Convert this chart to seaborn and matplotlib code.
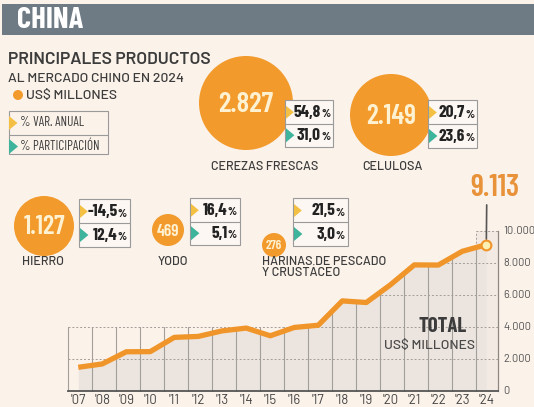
import numpy as np
import pandas as pd
import matplotlib
matplotlib.use("Agg")
import matplotlib.pyplot as plt
from matplotlib import font_manager
from matplotlib.patches import Circle, Rectangle, Polygon
import seaborn as sns

# total exports to China, US$ millions
years = ["'07", "'08", "'09", "'10", "'11", "'12", "'13", "'14", "'15",
         "'16", "'17", "'18", "'19", "'20", "'21", "'22", "'23", "'24"]
totals = [1450, 1660, 2420, 2430, 3320, 3380, 3730, 3900, 3420,
          3940, 4080, 5600, 5500, 6600, 7850, 7840, 8700, 9113]

# main products 2024
products = ["CEREZAS FRESCAS", "CELULOSA", "HIERRO", "YODO",
            "HARINAS DE PESCADO\nY CRUSTÁCEO"]
product_values = [2827, 2149, 1127, 469, 276]
var_anual = [54.8, 20.7, -14.5, 16.4, 21.5]
participacion = [31.0, 23.6, 12.4, 5.1, 3.0]

W, H = 534, 407
BG = "#FBF2EA"
ORANGE = "#F29A2C"
DARK = "#3C3C3C"
YELLOW = "#F4C043"
TEAL = "#3DB49B"

sns.set_theme(style="white")

names = {f.name for f in font_manager.fontManager.ttflist}


def pick(cands):
    for c in cands:
        if c in names:
            return c
    return "DejaVu Sans"


COND = pick(["Barlow Condensed", "Roboto Condensed", "DejaVu Sans"])
SANS = pick(["Barlow", "Barlow Semi Condensed", "Roboto", "DejaVu Sans"])
plt.rcParams["font.family"] = [SANS, "DejaVu Sans"]


def fmt_int(v):
    return f"{v:,}".replace(",", ".")


def fmt_pct(v):
    return f"{v:.1f}".replace(".", ",")


fig = plt.figure(figsize=(W / 100, H / 100), dpi=100, facecolor=BG)

# overlay in pixel coordinates for the infographic part
bg = fig.add_axes([0, 0, 1, 1], zorder=0)
bg.set_xlim(0, W)
bg.set_ylim(H, 0)
bg.axis("off")

bg.add_patch(Rectangle((2, 3.5), W, 31.5, color="#6F7B84", lw=0))
bg.text(17, 21, "CHINA", color="white", fontsize=22, fontweight="bold",
        family=COND, va="center", ha="left")

bg.text(7.5, 59, "PRINCIPALES PRODUCTOS", color=DARK, fontsize=12.5,
        fontweight="semibold", va="center", ha="left", family=SANS)
bg.text(8, 78.5, "AL MERCADO CHINO EN 2024", color=DARK, fontsize=10,
        fontweight="medium", va="center", ha="left", family=SANS)
bg.add_patch(Circle((18, 95), 5, color=ORANGE, lw=0))
bg.text(26, 95.5, "US$ MILLONES", color=DARK, fontsize=10,
        fontweight="medium", va="center", ha="left", family=SANS)


def tri(x, y, h, color):
    bg.add_patch(Polygon([(x, y - h / 2), (x, y + h / 2), (x + h * 0.6, y)],
                         closed=True, color=color, lw=0, zorder=3))


# legend box
bg.add_patch(Rectangle((8.5, 111), 99.5, 42.5, fill=False, ec="#9A9A9A", lw=0.8))
bg.plot([8.5, 108], [135, 135], color="#9A9A9A", lw=0.8)
tri(9, 123, 14, YELLOW)
tri(9, 146.5, 15, TEAL)
bg.text(20, 123, "% VAR. ANUAL", color=DARK, fontsize=9.5, va="center", family=COND)
bg.text(20, 146.5, "% PARTICIPACIÓN", color=DARK, fontsize=9.5, va="center", family=COND)

# layout of the product bubbles: circle centre, radius, font size, box, label pos
layout = [
    dict(c=(246, 103), r=47, fs=21, box=(285, 100, 48, 47), lab=(265, 167, "center")),
    dict(c=(391, 115), r=41, fs=20, box=(428, 100, 49, 48), lab=(392, 167, "center")),
    dict(c=(44, 226), r=30, fs=19, box=(79, 199, 51, 48), lab=(43, 262, "center")),
    dict(c=(168, 230), r=16, fs=12.5, box=(190, 198, 50, 47), lab=(173, 262, "center")),
    dict(c=(274, 245), r=12, fs=9.5, box=(293, 198, 55, 48), lab=(262, 267.5, "left")),
]

for name, val, va_, pa, lay in zip(products, product_values, var_anual, participacion, layout):
    cx, cy = lay["c"]
    bg.add_patch(Circle((cx, cy), lay["r"], color=ORANGE, lw=0, zorder=2))
    bg.text(cx, cy + 1, fmt_int(val), color="#FFF2D2", fontsize=lay["fs"],
            fontweight="semibold", family=COND, ha="center", va="center", zorder=4)
    bx, by, bw, bh = lay["box"]
    bg.add_patch(Rectangle((bx, by), bw, bh, facecolor="#FCF7F2", ec="#9A9A9A",
                           lw=0.8, zorder=3))
    bg.plot([bx, bx + bw], [by + bh / 2, by + bh / 2], color="#9A9A9A", lw=0.8, zorder=3)
    tri(bx + 1, by + bh * 0.26, 13, YELLOW)
    tri(bx + 1, by + bh * 0.75, 14, TEAL)
    for j, v in enumerate([va_, pa]):
        ty = by + bh * (0.26 if j == 0 else 0.75)
        bg.text(bx + bw - 12.5, ty + 0.5, fmt_pct(v), color="#222222", fontsize=12.5,
                fontweight="bold", family=COND, ha="right", va="center", zorder=4)
        bg.text(bx + bw - 12, ty + 2.2, "%", color="#222222", fontsize=8.5,
                fontweight="bold", family=COND, ha="left", va="center", zorder=4)
    lx, ly, lha = lay["lab"]
    bg.text(lx, ly, name, color=DARK, fontsize=9, fontweight="medium", family=SANS,
            ha=lha, va="center", linespacing=0.8)

# ---- total line chart ----
df = pd.DataFrame({"pos": np.arange(len(years)), "year": years, "total": totals})

ax = fig.add_axes([68.2 / W, 1 - 390.5 / H, 430.1 / W, 160 / H], zorder=1)
ax.patch.set_alpha(0)
left, right = -0.42, 17.5
ax.set_xlim(left, right)
ax.set_ylim(0, 10000)

x = df["pos"].to_numpy()
y = df["total"].to_numpy()
last = x[-1]

ax.fill_between(x, y, color="#ECE5DF", lw=0, zorder=1)
ax.fill_between([last - 0.42, right], 0, 10000, color="#ECE5DF", alpha=0.6, lw=0, zorder=0.9)

# column separators
grid_c = "#A39E99"
for e in np.arange(len(years)) + left:
    top = max(4000, np.interp(e, x, y))
    ax.plot([e, e], [0, top], color=grid_c, lw=0.8, zorder=1.5, clip_on=False)
ax.plot([last + left, last + left], [np.interp(last + left, x, y), 10000],
        color=grid_c, lw=0.7, ls=(0, (2, 2)), zorder=1.5)
ax.plot([last + left, right], [10000, 10000], color=grid_c, lw=0.7, ls=(0, (2, 2)), zorder=1.5)

# dotted gridlines, visible only inside the shaded area
for lev in [2000, 4000, 6000, 8000]:
    if lev <= 4000:
        xs = left
    else:
        k = int(np.argmax(y >= lev))
        xs = x[k - 1] + (lev - y[k - 1]) / (y[k] - y[k - 1])
    ax.plot([xs, right], [lev, lev], color=grid_c, lw=0.7, ls=(0, (2, 2)), zorder=1.5)

sns.lineplot(data=df, x="pos", y="total", ax=ax, color="#F0952A", lw=3.8,
             zorder=3, solid_capstyle="butt")
ax.plot([last], [y[-1]], "o", ms=7, mfc="#FDF0B5", mec="#F0952A", mew=1.5, zorder=4)
ax.annotate(fmt_int(totals[-1]), xy=(last, y[-1]), xytext=(6, 31),
            textcoords="offset points", ha="center", va="bottom",
            color="#E8923A", fontsize=22, fontweight="semibold", family=COND,
            annotation_clip=False,
            arrowprops=dict(arrowstyle="-", color="#555555", lw=1.2,
                            relpos=(0.34, 0.12), shrinkA=0, shrinkB=4))

ax.text(15.2, 4000, "TOTAL", color=DARK, fontsize=15, fontweight="bold",
        family=COND, ha="center", va="center", zorder=5)
ax.text(14.65, 2750, "US$ MILLONES", color="#4A4A4A", fontsize=10,
        fontweight="medium", family=SANS, ha="center", va="center", zorder=5)

for s in ["top", "left"]:
    ax.spines[s].set_visible(False)
ax.spines["bottom"].set_color("#555555")
ax.spines["bottom"].set_linewidth(1.3)
ax.spines["right"].set_color("#8C8782")
ax.spines["right"].set_linewidth(0.9)
ax.yaxis.tick_right()
ax.set_yticks([0, 2000, 4000, 6000, 8000, 10000])
ax.set_yticklabels([fmt_int(v) for v in [0, 2000, 4000, 6000, 8000, 10000]],
                   fontsize=8, color="#555555", family=SANS)
ax.set_xticks(x)
ax.set_xticklabels(years, fontsize=9.5, color="#444444", family=SANS)
ax.tick_params(axis="both", length=0)
ax.tick_params(axis="x", pad=2.5)
ax.tick_params(axis="y", pad=3.4)
ax.set_xlabel("")
ax.set_ylabel("")
ax.grid(False)

fig.savefig("out.png", dpi=100, facecolor=BG)
